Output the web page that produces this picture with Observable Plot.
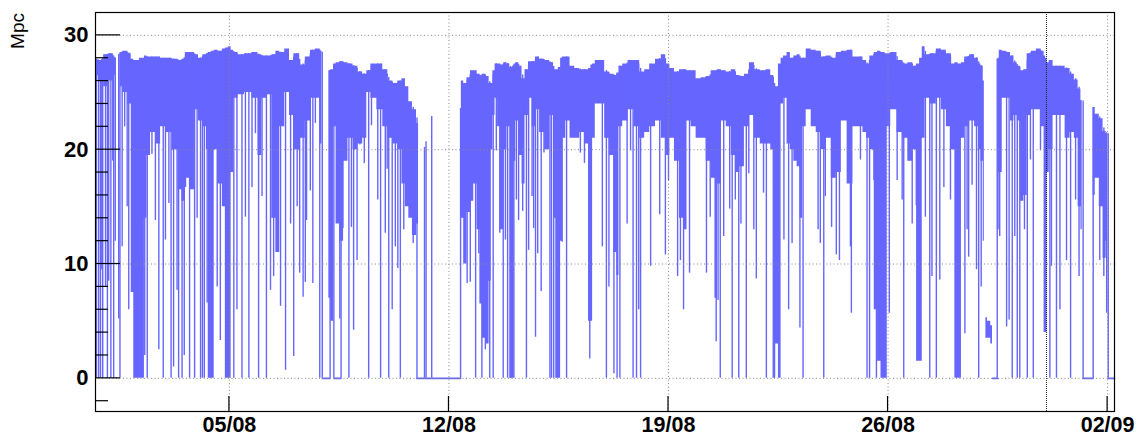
<!DOCTYPE html>
<html><head><meta charset="utf-8">
<script src="https://cdn.jsdelivr.net/npm/d3@7"></script>
<script src="https://cdn.jsdelivr.net/npm/@observablehq/plot@0.6"></script>
<style>body{margin:0;background:#fff;}</style>
</head><body><div id="chart"></div>
<script>
// Time is given as fractional day of August (UTC): 33 = 02/09 00:00
const xDomainDays = [0.73, 33.22];
const yDomain = [-2.9, 32];
const yMajorTicks = [0, 10, 20, 30];
const yMinorTicks = [-2, 2, 4, 6, 8, 12, 14, 16, 18, 22, 24, 26, 28];
const xTickDays = [5, 12, 19, 26, 33];
const xTickLabels = ["05/08", "12/08", "19/08", "26/08", "02/09"];
const markerDays = [31.05];
const yLabel = "Mpc";

// band segments: [day, upper envelope (Mpc), lower edge of dense region (Mpc)]
const band0 = [[0.73,27.9,26.5],[0.90,27.8,26.0],[1.08,28.3,25.5],[1.22,28.4,26.0],[1.38,28.0,26.5]];
const band1 = [[1.52,28.5,25.5],[1.68,28.6,25.0],[1.84,28.4,24.0],[1.90,27.9,7.5],[2.00,27.8,0],[2.26,28.0,0],
 [2.32,28.2,14],[2.42,28.1,19.5],[2.55,28.1,21.5],[2.74,28.1,20.5],[2.87,28.0,22.0],[3.06,28.0,21.5],[3.28,27.9,20.0],
 [3.44,27.8,16.5],[3.53,27.9,15.5],[3.66,28.5,17.5],[3.82,28.5,16.5],[3.95,28.3,23.5],[4.07,28.0,22.5],[4.23,28.3,22.0],
 [4.30,28.4,20.0],[4.35,28.5,0],[4.49,28.6,0],[4.54,28.7,20.0],[4.71,28.6,17.0],[4.84,28.8,15.0],[4.90,28.9,0],[5.03,29.0,0],
 [5.08,28.7,18.0],[5.19,28.5,24.5],[5.35,28.3,24.8],[5.61,28.4,25.0],[5.83,28.5,24.5],[5.99,28.3,19.5],[6.08,28.2,24.5],
 [6.30,28.2,24.8],[6.40,28.3,14.0],[6.56,28.6,11.0],[6.65,28.5,22.0],[6.88,28.8,25.0],[6.95,27.8,23.0],[7.16,28.4,20.0],
 [7.32,27.4,21.0],[7.52,28.1,22.5],[7.65,28.7,24.5],[7.84,28.8,24.5],[7.95,28.6,20.5]];
const band2 = [[8.17,26.9,7.0],[8.29,27.0,5.0],[8.35,27.5,22.0],[8.45,27.6,13.5],[8.58,27.7,12.0],[8.70,27.6,19.0],
 [8.86,27.5,21.0],[9.02,27.3,20.0],[9.17,26.8,20.5],[9.33,26.6,21.0],[9.43,26.9,25.0],[9.59,27.5,24.5],[9.81,27.5,23.5],
 [9.97,27.0,22.0],[10.13,26.0,21.0],[10.29,25.8,20.5],[10.45,26.0,20.0],[10.55,26.2,17.0],[10.67,25.5,15.0],
 [10.77,24.2,14.0],[10.90,23.5,12.5],[11.03,22.3,13.5]];
const band3 = [[12.37,23.6,14.0],[12.42,26.0,14.0],[12.52,25.8,10.0],[12.63,26.3,14.5],[12.74,26.9,15.5],[12.84,26.9,17.0],
 [12.95,26.6,13.0],[13.02,26.5,6.5],[13.11,26.6,3.5],[13.24,26.4,3.0],[13.32,25.8,8.5],[13.37,25.8,20.0],[13.43,26.9,23.0],
 [13.51,27.5,24.5],[13.59,27.5,22.0],[13.69,27.4,13.0],[13.80,27.6,20.0],[13.90,27.5,22.0],[13.98,27.2,0],[14.06,27.3,0],
 [14.09,27.5,19.0],[14.17,27.6,22.5],[14.28,27.3,19.5],[14.38,26.2,17.0],[14.47,27.0,23.0],[14.60,27.7,24.5],
 [14.71,27.7,22.0],[14.81,28.1,23.5],[14.97,27.9,21.5],[15.13,27.8,20.0],[15.29,27.6,23.0],[15.38,27.0,14.0],
 [15.43,27.0,0],[15.54,27.2,0],[15.58,28.0,12.0],[15.66,28.1,21.0],[15.79,28.1,22.5],[15.93,27.3,21.0],[16.09,27.1,21.0],
 [16.25,27.0,21.5],[16.41,27.0,20.5],[16.49,27.1,5.0],[16.56,27.4,5.0],[16.60,27.5,21.0],[16.73,27.8,24.0],
 [16.89,27.8,24.0],[17.04,26.8,21.0],[17.20,26.6,19.5],[17.31,26.5,11.0],[17.39,26.7,9.0],[17.45,27.3,22.0],
 [17.63,27.5,22.5],[17.79,27.8,23.5],[18.00,27.8,22.0],[18.16,26.8,21.0],[18.32,27.0,21.5],[18.48,27.5,22.0],
 [18.69,27.9,22.5],[18.85,28.3,21.0],[18.97,27.5,19.5],[19.11,27.1,21.0],[19.27,26.8,19.0],[19.43,27.0,14.0],
 [19.54,27.0,13.0],[19.64,26.9,22.5],[19.80,26.9,22.0],[19.96,26.2,21.0],[20.12,26.3,21.0],[20.28,26.4,19.0],
 [20.44,26.9,17.5],[20.52,26.9,7.0],[20.60,27.0,17.0],[20.76,26.9,22.5],[20.92,26.8,22.0],[21.08,27.0,19.5],
 [21.21,26.5,18.0],[21.34,26.4,18.5],[21.50,26.6,22.0],[21.66,27.6,23.0],[21.82,27.0,21.0],[22.03,26.9,20.5],
 [22.19,27.0,20.5],[22.33,26.5,20.0],[22.38,25.8,17.0],[22.44,25.5,3.0],[22.57,27.5,0],[22.61,28.0,24.0],
 [22.73,28.2,24.5],[22.83,28.5,20.5],[22.94,28.0,20.0],[23.05,28.2,19.0],[23.15,28.3,18.5],[23.24,28.0,14.0],
 [23.31,28.0,22.0],[23.47,28.8,23.5],[23.63,28.7,22.0],[23.79,28.6,21.5],[23.95,28.1,20.0],[24.11,28.2,21.0],
 [24.27,28.0,17.5],[24.43,28.5,18.0],[24.59,28.6,22.5],[24.80,28.7,17.0],[24.96,28.1,22.0],[25.12,28.1,22.0],
 [25.28,27.8,21.5],[25.35,27.5,21.0],[25.49,28.2,20.0],[25.63,28.5,6.0],[25.70,28.6,1.5],[25.85,28.5,0],[25.96,28.4,0],
 [25.99,28.4,22.0],[26.18,28.5,23.5],[26.39,27.8,21.5],[26.55,27.5,21.0],[26.71,27.6,19.0],[26.87,27.3,20.0],
 [26.95,27.5,1.5],[27.06,28.0,1.5],[27.12,29.0,21.0],[27.24,28.3,24.5],[27.46,28.4,24.0],[27.62,28.8,24.5],
 [27.78,28.7,23.5],[27.94,28.4,22.0],[28.10,27.5,20.0],[28.16,27.6,0],[28.31,27.5,0],[28.37,27.6,21.0],
 [28.52,28.1,22.0],[28.68,28.3,22.5],[28.84,28.0,22.0],[28.92,27.5,20.0],[29.00,27.3,19.0],[29.07,26.0,12.0]];
const band4 = [[29.12,5.3,3.5],[29.22,5.0,3.5],[29.33,4.6,3.0]];
const band5 = [[29.50,28.0,13.0],[29.59,28.7,18.0],[29.69,28.6,24.5],[29.85,28.5,24.5],[29.96,28.2,22.5],[30.07,27.6,23.0],
 [30.17,27.3,22.5],[30.28,26.9,15.5],[30.38,27.0,16.0],[30.49,28.4,23.0],[30.65,28.6,23.5],[30.81,28.8,23.5],
 [30.95,28.6,22.0],[31.00,28.2,4.0],[31.04,28.0,4.0],[31.10,27.6,18.0],[31.18,27.8,20.0],[31.34,27.3,23.0],
 [31.55,27.3,23.0],[31.74,27.1,21.0],[31.87,26.6,21.5],[32.01,26.1,21.0],[32.11,25.3,15.0],[32.19,24.3,13.0]];
const band6 = [[32.54,23.7,16.0],[32.67,23.1,17.5],[32.80,22.7,15.0],[32.91,21.6,10.5],[33.00,21.4,12.0]];

// isolated dropouts: [day, minimum value reached (Mpc)]
const drops1 = [[0.76,0],[0.83,0],[0.89,0],[0.93,9.5],[0.96,0],[1.05,8],[1.11,0],[1.15,8.5],[1.22,0],[1.28,19],[1.31,0],
 [1.36,12],[1.47,5.2],[1.51,0],[1.58,11.5],[1.66,22],[1.74,15],[1.79,6],[2.30,2],[2.38,0],[2.53,19.6],[2.64,13.8],
 [2.75,2.5],[2.89,0],[2.96,12.1],[3.07,15.3],[3.14,0],[3.22,1],[3.33,7.7],[3.38,0],[3.49,0],[3.56,2],[3.60,16.7],[3.73,0],
 [3.81,16.7],[3.89,0],[3.97,14],[4.08,0],[4.14,0],[4.20,0],[4.29,6.6],[4.61,8],[4.71,3.3],[4.80,18.2],[5.14,0],[5.24,6],
 [5.40,0],[5.51,14.1],[5.62,0],[5.72,16.7],[5.83,21.4],[5.93,0],[6.04,15.9],[6.18,0],[6.31,7.7],[6.41,8.9],[6.52,13.8],
 [6.63,6.3],[6.79,0.7],[6.95,13.5],[7.05,1.9],[7.16,15],[7.24,9.2],[7.35,7.1],[7.42,8.4],[7.46,13.8],[7.58,16.4],
 [7.66,8.3],[7.74,22.3],[7.88,0],[7.96,0]];
const drops2 = [[8.21,0],[8.24,8],[8.33,0],[8.52,5.2],[8.56,0],[8.62,13.1],[8.81,0],[8.89,13.2],[8.96,4.2],[9.07,10.3],
 [9.16,20.4],[9.30,18.8],[9.44,0],[9.53,22.1],[9.73,15.6],[9.82,0],[9.97,12.7],[10.03,18.3],[10.08,0],[10.19,6.0],
 [10.29,11.5],[10.37,9.6],[10.45,0],[10.56,13],[10.86,11.8],[10.98,0],[12.37,0],[12.58,8.3],[12.68,8.4],[12.85,0],
 [12.95,10.9],[13.05,0],[13.16,2.5],[13.30,0],[13.41,0],[13.51,19.9],[13.62,12.7],[13.73,0],[13.80,12.1],[13.87,0],
 [13.96,0],[14.07,0],[14.15,15.6],[14.22,13.8],[14.35,14.6],[14.47,0],[14.54,11.2],[14.65,15.9],[14.70,13.1],[14.76,3.6],
 [14.83,10.9],[14.94,7.6],[15.03,19.7],[15.22,0],[15.27,0],[15.34,0],[15.61,11.9],[15.75,0],[16.19,19.7],[16.32,18.8],
 [16.49,1.7],[16.89,11.5],[17.02,0],[17.10,8.0],[17.26,0.4],[17.36,0],[17.45,0],[17.68,13.5],[17.79,19.9],[17.87,0],
 [17.98,0],[18.05,6.0],[18.11,0],[18.43,9.8]];
const drops3 = [[18.72,14.3],[18.90,10.8],[19.00,17.3],[19.29,8.9],[19.38,10.3],[19.48,6.0],[19.67,9.2],[20.21,9.2],
 [20.33,14.1],[20.52,3.2],[20.58,6.8],[20.65,0],[20.76,12.4],[20.95,14.8],[21.03,0],[21.13,15.6],[21.24,0],[21.31,13.5],
 [21.48,0],[21.56,17.9],[21.72,13.0],[21.80,8.7],[22.03,16.2],[22.12,0],[22.34,0],[22.38,0],[22.68,12.1],[22.83,6.0],
 [22.94,11.8],[23.19,4.4],[23.29,0],[23.77,13.0],[23.84,11.8],[23.95,0],[24.00,15.9],[24.20,13.2],[24.35,10.8],
 [24.45,10.3],[24.80,11.5],[24.83,5.7],[25.12,19.1],[25.33,0],[25.41,0],[25.55,17.3],[25.63,0]];
const drops4 = [[26.04,5.7],[26.29,17.3],[26.45,15.6],[26.50,0],[26.77,13.5],[26.90,15.1],[27.19,14.1],[27.33,0],
 [27.40,8.9],[27.54,0],[27.65,8.6],[27.78,16.7],[27.99,15.6],[28.45,3.9],[28.52,13.0],[28.57,10.6],[28.68,16.9],
 [28.82,9.5],[28.89,0],[28.97,8.0],[29.48,0],[29.56,12.4],[29.78,4.5],[29.86,5.1],[29.96,0],[30.04,12.4],[30.12,0],
 [30.20,0],[30.35,13.0],[30.44,0],[30.54,19.1],[30.63,0],[30.86,19.9],[31.16,0],[31.21,9.8],[31.37,0],[31.48,6.0],
 [31.69,10.3],[31.82,0],[31.98,15.6],[32.09,8.9],[32.22,0],[32.54,0],[32.75,10.3],[32.88,8.9],[32.97,5.7],[33.02,0]];

// short excursions up from zero during the down-time: [day, value]
const spikes = [[11.22,20.2],[11.27,20.7],[11.45,22.9]];
// intervals with value 0: [start day, end day]
const zeroIntervals = [[7.96,8.21],[8.33,8.56],[10.97,12.37],[29.33,29.50],[32.21,32.54],[33.01,33.22]];

const color = "#6666ff";
const day = d => new Date(Date.UTC(2019, 7, 1) + (d - 1) * 864e5);

const bands = [band0, band1, band2, band3, band4, band5, band6];
const bandRows = bands.flatMap((b, s) => b.map(([t, hi, lo]) => ({date: day(t), hi, lo, seg: s})));
const hiPts = bands.filter(b => b !== band4).flat().sort((a, b) => a[0] - b[0]);
function hiAt(t) {
  const i = d3.bisector(p => p[0]).left(hiPts, t);
  if (i <= 0) return hiPts[0][1];
  if (i >= hiPts.length) return hiPts[hiPts.length - 1][1];
  const a = hiPts[i - 1], b = hiPts[i];
  return a[1] + (b[1] - a[1]) * (t - a[0]) / (b[0] - a[0]);
}
const dropRows = [...drops1, ...drops2, ...drops3, ...drops4].map(([t, m]) => ({date: day(t), lo: m, hi: hiAt(t)}));
const spikeRows = spikes.map(([t, v]) => ({date: day(t), lo: 0, hi: v}));
const zeroRows = zeroIntervals.flatMap(([s, e], k) => [{date: day(s), v: 0, k}, {date: day(e), v: 0, k}]);
const xTicks = xTickDays.map(day);

const plot = Plot.plot({
  width: 1139, height: 437,
  marginLeft: 95, marginRight: 25, marginTop: 12, marginBottom: 26,
  x: {type: "utc", domain: xDomainDays.map(day)},
  y: {domain: yDomain},
  style: {fontFamily: "'Liberation Sans', Arial, Helvetica, sans-serif", background: "white", color: "black"},
  marks: [
    Plot.areaY(bandRows, {x: "date", y1: "lo", y2: "hi", z: "seg", fill: color, curve: "step"}),
    Plot.ruleX(dropRows, {x: "date", y1: "lo", y2: "hi", stroke: color, strokeWidth: 1.4}),
    Plot.ruleX(spikeRows, {x: "date", y1: "lo", y2: "hi", stroke: color, strokeWidth: 1.4}),
    Plot.line(zeroRows, {x: "date", y: "v", z: "k", stroke: color, strokeWidth: 1.6}),
    Plot.ruleY(yMajorTicks, {stroke: "#8a8a8a", strokeDasharray: "1,2.5"}),
    Plot.ruleX(xTicks, {stroke: "#8a8a8a", strokeDasharray: "1,2.5"}),
    Plot.ruleX(markerDays.map(day), {stroke: "#222", strokeDasharray: "1,1"}),
    Plot.frame({stroke: "black", strokeWidth: 1.2}),
    Plot.axisY(yMajorTicks, {tickSize: 0, tickPadding: 7, fontSize: 22, fontWeight: "bold", label: null}),
    Plot.axisX(xTicks, {tickSize: 0, tickPadding: 5, fontSize: 21.5, fontWeight: "bold", label: null,
      tickFormat: d => xTickLabels[xTicks.findIndex(t => +t === +d)]})
  ]
});
document.getElementById("chart").appendChild(plot);

// ROOT-style inward tick marks and rotated axis title
const svg = d3.select(plot);
const ys = plot.scale("y"), xs = plot.scale("x");
const left = xs.range[0], bottom = ys.range[0];
const g = svg.append("g").attr("stroke", "black").attr("stroke-width", 1.2);
yMajorTicks.forEach(v => g.append("line").attr("x1", left).attr("x2", left + 25).attr("y1", ys.apply(v)).attr("y2", ys.apply(v)));
yMinorTicks.forEach(v => g.append("line").attr("x1", left).attr("x2", left + 13).attr("y1", ys.apply(v)).attr("y2", ys.apply(v)));
xTicks.forEach(d => g.append("line").attr("x1", xs.apply(d)).attr("x2", xs.apply(d)).attr("y1", bottom).attr("y2", bottom - 15));
svg.append("text").text(yLabel)
  .attr("transform", `translate(24,${ys.range[1] + 1}) rotate(-90)`)
  .attr("text-anchor", "end")
  .attr("font-family", "'Liberation Sans', Arial, sans-serif")
  .attr("font-size", 19).attr("fill", "black");
</script>
</body></html>
